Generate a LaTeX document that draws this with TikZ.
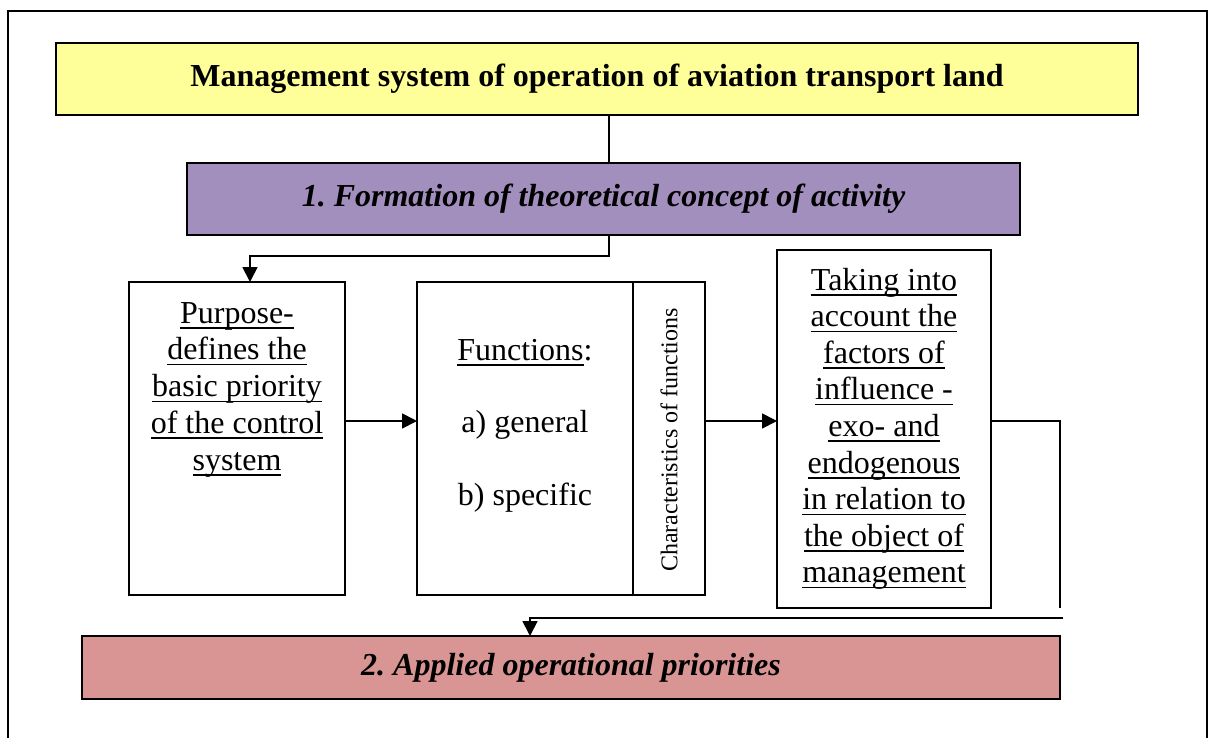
\documentclass[tikz,border=0pt]{standalone}
\usepackage{fontspec}
\setmainfont{Liberation Serif}
\usetikzlibrary{arrows.meta}
\definecolor{titleyellow}{HTML}{FFFF99}
\definecolor{stagelilac}{RGB}{162,143,190}
\definecolor{stagerose}{RGB}{217,149,148}
\frenchspacing
% underline at a fixed depth below the baseline
\newsavebox\undertextbox
\newcommand\undertext[1]{\sbox\undertextbox{#1}%
  \rlap{\vrule height -4pt depth 5.6pt width \wd\undertextbox}\usebox\undertextbox}
\begin{document}
\begin{tikzpicture}[x=1pt, y=-1pt, line width=1.8pt,
  box/.style={draw, inner sep=0pt, outer sep=0pt},
  big/.style={font=\fontsize{32}{36.6}\selectfont},
  title/.style={font=\fontsize{32}{36.6}\selectfont\bfseries},
  heading/.style={font=\fontsize{32}{36.6}\selectfont\bfseries\itshape},
  small/.style={font=\fontsize{24}{28}\selectfont},
  arr/.style={-{Triangle[length=15pt,width=15pt]}}]
\useasboundingbox (0,0) rectangle (1209,738);
%frame
\draw (8,738) -- (8,11) -- (1207,11) -- (1207,738);
%boxes
\node[box, title, fill=titleyellow, minimum width=1082pt, minimum height=72pt]
  (system) at (597,79) {Management system of operation of aviation transport land};
\node[box, heading, fill=stagelilac, minimum width=833pt, minimum height=72pt]
  (concept) at (603.5,199) {1. Formation of theoretical concept of activity};
\node[box, minimum width=216pt, minimum height=313pt] (purpose) at (237,438.5) {};
\node[box, minimum width=288pt, minimum height=313pt] (functions) at (561,438.5) {};
\node[box, minimum width=214pt, minimum height=358pt] (factors) at (884,429) {};
\node[box, heading, fill=stagerose, minimum width=978pt, minimum height=63pt]
  (applied) at (571,667.5) {2. Applied operational priorities};
%functions box split
\coordinate (split) at (633,438.5);
\draw (split |- functions.north) -- (split |- functions.south);
\node[small, rotate=90] (characteristics) at (669,440) {Characteristics of functions};
%texts
\foreach \txt [count=\i] in {Purpose-, defines the, basic priority, of the control, system}
  \node[big, anchor=base] (purpose-\i) at (237,{323+36.8*(\i-1)}) {\undertext{\txt}};
\node[big, anchor=base] (functions-head) at (525,360) {\undertext{Functions}:};
\node[big, anchor=base] (functions-a) at (525,432) {a) general};
\node[big, anchor=base] (functions-b) at (525,505) {b) specific};
\foreach \txt [count=\i] in {Taking into, account the, factors of, influence -,
    exo- and, endogenous, in relation to, the object of, management}
  \node[big, anchor=base] (factors-\i) at (884,{290+36.6*(\i-1)}) {\undertext{\txt}};
%connectors
\coordinate (trunk) at (609,0);
\coordinate (drop) at (250,256);
\coordinate (flow) at (0,421);
\coordinate (riser) at (1060,608);
\coordinate (feed) at (1063,618);
\coordinate (inlet) at (530,618);
\draw (system.south -| trunk) -- (concept.north -| trunk);
\draw[arr] (concept.south -| trunk) |- (drop) -- (purpose.north -| drop);
\draw[arr] (purpose.east |- flow) -- (functions.west |- flow);
\draw[arr] (functions.east |- flow) -- (factors.west |- flow);
\draw (factors.east |- flow) -| (riser);
\draw[arr] (feed) -- (inlet) -- (applied.north -| inlet);
\end{tikzpicture}
\end{document}
